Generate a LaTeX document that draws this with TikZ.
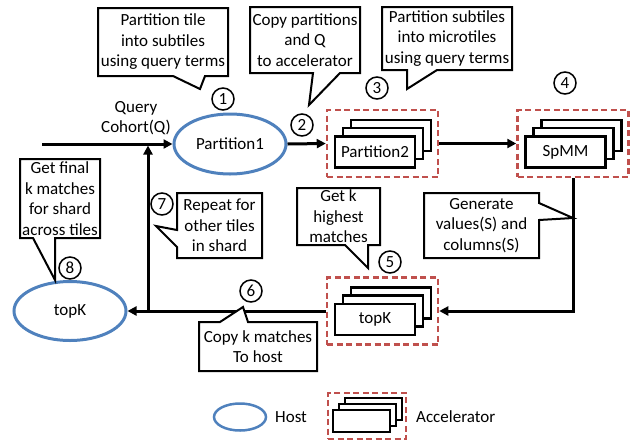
\documentclass[tikz,border=0pt]{standalone}
\usepackage{fontspec}
\setmainfont{Carlito}
\usetikzlibrary{arrows.meta,calc,shapes.geometric}
\definecolor{hostblue}{HTML}{4F81BD}
\definecolor{accred}{HTML}{C0504D}
\tikzset{
  every node/.style={font=\fontsize{17pt}{20.5pt}\selectfont, inner sep=0pt},
  conn/.style={line width=3pt},
  arr/.style={conn, -{Triangle[length=9pt,width=9pt]}},
  host/.style={ellipse, draw=hostblue, line width=3pt},
  accbox/.style={draw=accred, line width=2.5pt, dash pattern=on 6pt off 3.5pt},
  card/.style={draw, fill=white, line width=2.5pt, minimum width=80pt, minimum height=31pt},
  smallcard/.style={draw, fill=white, line width=2.2pt, minimum width=57pt, minimum height=22pt},
  callout/.style={draw, fill=white, line width=2pt, line join=miter},
  num/.style={circle, draw, line width=1.5pt, minimum size=22pt},
  ctext/.style={align=center}
}
\newcommand\accstack[4]{%
  \node[accbox, minimum width=111pt, minimum height=67pt] (#1) at (#2,#3) {};
  \node[card] (#1b) at ($(#1)+(8.5,-8)$) {};
  \node[card] (#1m) at ($(#1)+(0.5,0)$) {};
  \node[card] (#1f) at ($(#1)+(-7.5,8.5)$) {#4};
}
\begin{document}
\begin{tikzpicture}[x=1pt,y=-1pt]
\useasboundingbox (0,0) rectangle (631,440);

% host nodes
\node[host, minimum width=112pt, minimum height=60pt] (P1) at (230,144) {Partition1};
\node[host, minimum width=112pt, minimum height=59pt] (TK) at (70,311) {topK};

% accelerator nodes
\accstack{A2}{382.5}{143.5}{Partition2}
\accstack{A4}{573}{143.5}{SpMM}
\accstack{A5}{382.5}{311}{topK}

% input label
\node[ctext] (qlab) at (136,118) {Query\\Cohort(Q)};

% connectors
\coordinate (qin) at (42,144);
\draw[arr] (qin) -- (P1.west);
\draw[arr] (P1.east) -- (A2.west);
\draw[arr] (A2.east) -- (A4.west);
\draw[arr] (A4.south) |- (A5.east);
\draw[arr] (A5.west) -- (TK.east);
\coordinate (jbot) at (148,311);
\coordinate (jtop) at (148,145.5);
\draw[arr] (jbot) -- (jtop);

% callouts
\draw[callout] (98,8) -- (228,8) -- (228,76) -- (205,76) -- (200,89) -- (173,76) -- (98,76) -- cycle;
\node[ctext] (c1) at (163,42) {Partition tile\\into subtiles\\using query terms};

\draw[callout] (250,7) -- (360,7) -- (360,73) -- (340,73) -- (309,105) -- (313,73) -- (250,73) -- cycle;
\node[ctext] (c2) at (305,40) {Copy partitions\\and Q\\to accelerator};

\draw[callout] (382,7) -- (512,7) -- (512,70) -- (437,70) -- (407,89) -- (407,70) -- (382,70) -- cycle;
\node[ctext] (c3) at (447,38.5) {Partition subtiles\\into microtiles\\using query terms};

\draw[callout] (424,193) -- (539,193) -- (539,203) -- (573,218) -- (539,220) -- (539,258) -- (424,258) -- cycle;
\node[ctext] (cg) at (481.5,225.5) {Generate\\values(S) and\\columns(S)};

\draw[callout] (297,188) -- (380,188) -- (380,245) -- (368,245) -- (368,268) -- (345,245) -- (297,245) -- cycle;
\node[ctext] (c5) at (338.5,216.5) {Get k\\highest\\matches};

\draw[callout] (199,322) -- (220,322) -- (243,307) -- (248,322) -- (317,322) -- (317,371) -- (199,371) -- cycle;
\node[ctext] (c6) at (258,346.5) {Copy k matches\\To host};

\draw[callout] (177,193) -- (262,193) -- (262,258) -- (177,258) -- (177,247) -- (156,226) -- (177,230) -- cycle;
\node[ctext] (c7) at (219.5,225.5) {Repeat for\\other tiles\\in shard};

\draw[callout] (20,159) -- (100,159) -- (100,238) -- (55,238) -- (55,280) -- (33,238) -- (20,238) -- cycle;
\node[ctext] (c8) at (60,198.5) {Get final\\k matches\\for shard\\across tiles};

% step numbers
\node[num] (n1) at (223,99) {1};
\node[num] (n2) at (302,125) {2};
\node[num] (n3) at (377,88) {3};
\node[num] (n4) at (565,83) {4};
\node[num] (n5) at (390,262) {5};
\node[num] (n6) at (251,291) {6};
\node[num] (n7) at (162,204) {7};
\node[num] (n8) at (70,268) {8};

% legend
\node[host, minimum width=52pt, minimum height=27pt, line width=2.5pt] (lh) at (240,417) {};
\node[anchor=west] (lht) at (275,417) {Host};
\node[accbox, minimum width=78pt, minimum height=46pt, line width=2pt] (la) at (367,416) {};
\node[smallcard] (lab) at (373.5,409) {};
\node[smallcard] (lam) at (367.5,415) {};
\node[smallcard] (laf) at (361.5,421) {};
\node[anchor=west] (lat) at (416,417) {Accelerator};
\end{tikzpicture}
\end{document}
